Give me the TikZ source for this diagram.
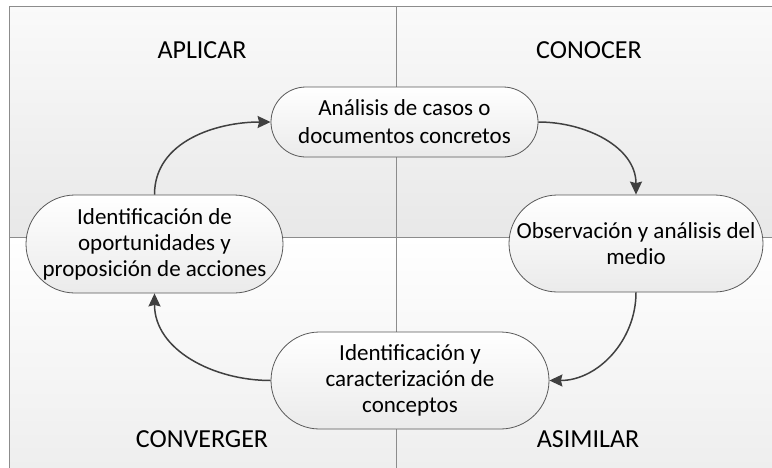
\documentclass[tikz,border=0pt]{standalone}
\usepackage{fontspec}
\setmainfont{Carlito}
\usetikzlibrary{shapes.misc, arrows.meta}
\definecolor{linea}{HTML}{404040}
\definecolor{borde}{HTML}{8C8C8C}
\tikzset{
  etapa/.style={rounded rectangle, draw=black!65, line width=0.8pt, top color=white, bottom color=black!8,
    inner sep=0pt, align=center, font=\fontsize{23}{26}\selectfont},
  cuadrante/.style={font=\fontsize{26}{30}\selectfont},
  flecha/.style={draw=linea, line width=1.5pt, -{Stealth[length=13pt,width=12pt,inset=1.5pt]}},
}
\begin{document}
\begin{tikzpicture}[x=1pt,y=-1pt]
        \useasboundingbox (0,0) rectangle (772,467);
        \clip (0,0) rectangle (772,467);

        \shade[top color=black!2, bottom color=black!9] (9.5,6.5) rectangle (396,237);
        \shade[top color=black!2, bottom color=black!9] (396,6.5) rectangle (790,237);
        \shade[top color=white, bottom color=black!7] (9.5,237) rectangle (396,480);
        \shade[top color=white, bottom color=black!7] (396,237) rectangle (790,480);

        \draw[borde, line width=1.2pt] (9.5,480)--(9.5,6.5)--(790,6.5);
        \draw[borde, line width=1pt] (396,6.5)--(396,480);
        \draw[borde, line width=1pt] (9.5,237)--(790,237);

        \node[cuadrante] (aplicar) at (202,50) {APLICAR};
        \node[cuadrante] (conocer) at (589,50) {CONOCER};
        \node[cuadrante] (converger) at (202,439.5) {CONVERGER};
        \node[cuadrante] (asimilar) at (588,439.5) {ASIMILAR};

        \node[etapa, minimum width=267pt, minimum height=70pt] (analisis) at (404.5,122)
            {Análisis de casos o\\[2pt]documentos concretos};
        \node[etapa, minimum width=254pt, minimum height=97pt] (observacion) at (636,243.5)
            {Observación y análisis del\\medio};
        \node[etapa, minimum width=278pt, minimum height=97pt] (conceptos) at (410,380.5)
            {Identificación y\\caracterización de\\conceptos};
        \node[etapa, minimum width=257pt, minimum height=98pt] (acciones) at (154.5,244)
            {Identificación de\\oportunidades y\\proposición de acciones};

        \draw[flecha] (acciones.north) to[out=90,in=180] (analisis.west);
        \draw[flecha] (analisis.east) to[out=0,in=90] (observacion.north);
        \draw[flecha] (observacion.south) to[out=-90,in=0] (conceptos.east);
        \draw[flecha] (conceptos.west) to[out=180,in=-90] (acciones.south);
      \end{tikzpicture}
\end{document}
